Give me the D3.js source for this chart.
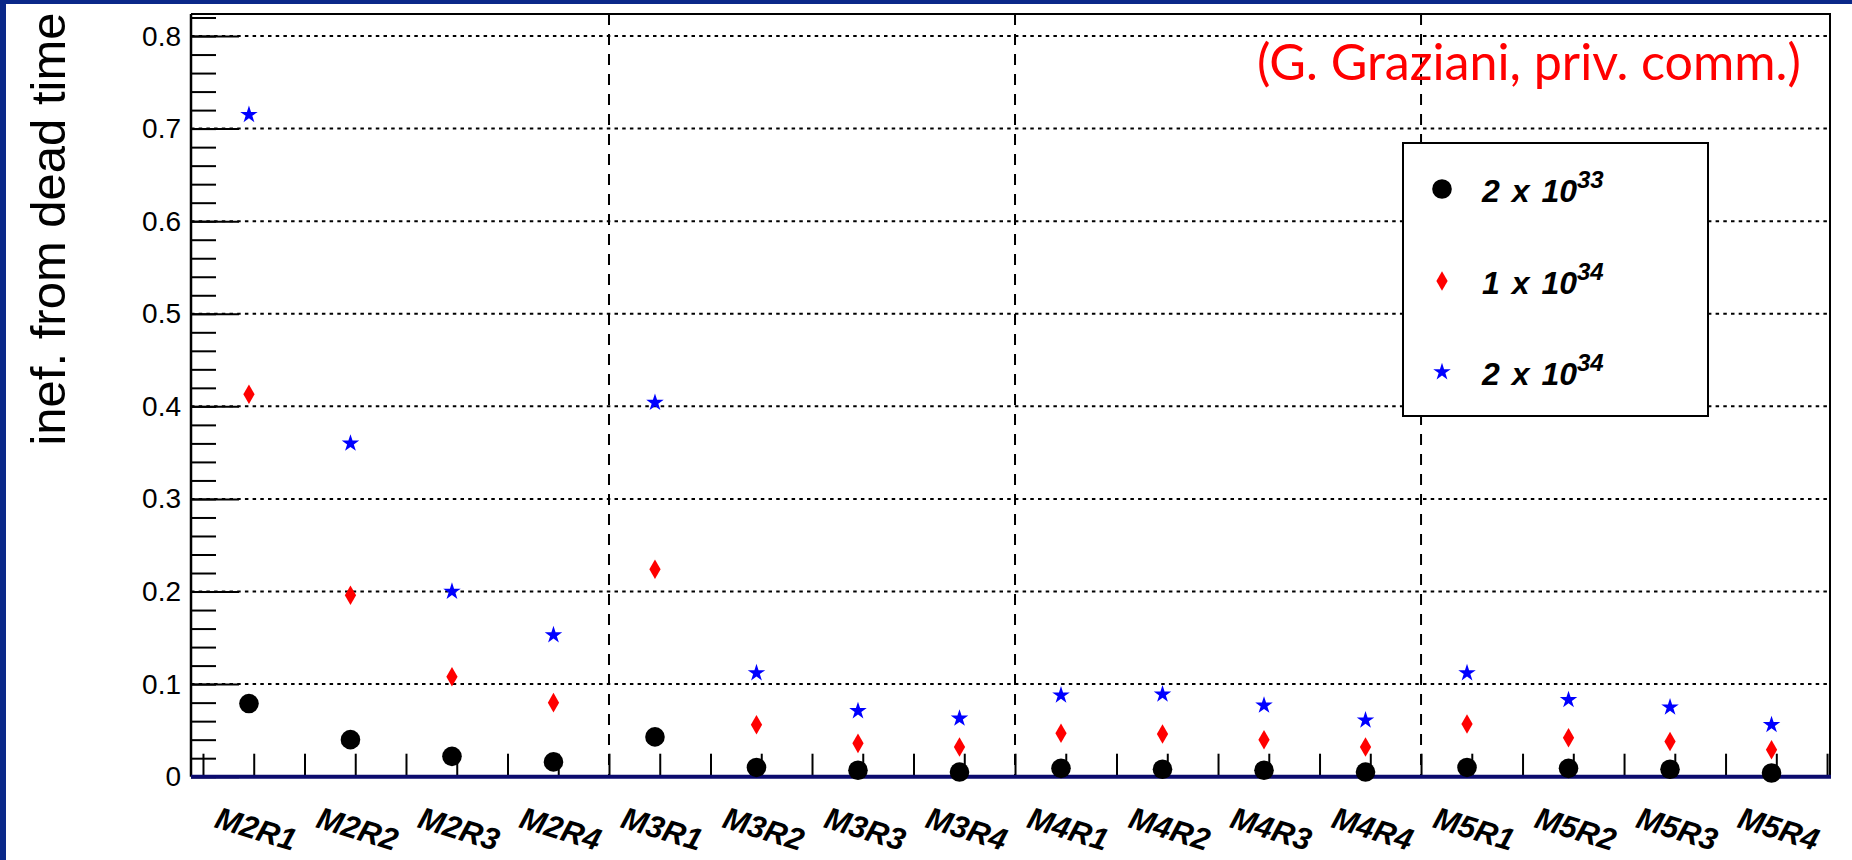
<!DOCTYPE html>
<html><head><meta charset="utf-8">
<script src="https://cdn.jsdelivr.net/npm/d3@7"></script>
<style>html,body{margin:0;padding:0;background:#fff;overflow:hidden}</style>
</head><body>
<svg id="chart" width="1852" height="860"></svg>
<script>
// ---- data ----
const categories = ["M2R1","M2R2","M2R3","M2R4","M3R1","M3R2","M3R3","M3R4",
                    "M4R1","M4R2","M4R3","M4R4","M5R1","M5R2","M5R3","M5R4"];
const lumi2e33 = [0.079,0.040,0.022,0.016,0.043,0.010,0.007,0.005,
                  0.009,0.008,0.007,0.005,0.010,0.009,0.008,0.004];
const lumi1e34 = [0.413,0.196,0.108,0.080,0.224,0.056,0.036,0.032,
                  0.047,0.046,0.040,0.032,0.057,0.042,0.038,0.029];
const lumi2e34 = [0.715,0.360,0.200,0.153,0.404,0.112,0.071,0.063,
                  0.088,0.089,0.077,0.061,0.112,0.083,0.075,0.056];
const yMajorTicks = [0,0.1,0.2,0.3,0.4,0.5,0.6,0.7,0.8];
const yTickLabels = ["0","0.1","0.2","0.3","0.4","0.5","0.6","0.7","0.8"];
const legendBases = ["2 x 10","1 x 10","2 x 10"];
const legendExps  = ["33","34","34"];
const yTitle = "inef. from dead time";
const note = "(G. Graziani, priv. comm.)";

// ---- layout ----
const L = 191, R = 1830, T = 14, B = 776.7;
const svg = d3.select("#chart");
svg.append("rect").attr("x",0).attr("y",0).attr("width",1852).attr("height",860).attr("fill","#fff");
svg.append("rect").attr("x",0).attr("y",0).attr("width",6).attr("height",860).attr("fill","#0a2889");
svg.append("rect").attr("x",0).attr("y",0).attr("width",1852).attr("height",4).attr("fill","#0a2889");

const x = d3.scaleLinear().domain([-0.571, 15.576]).range([L, R]);
const y = d3.scaleLinear().domain([0, 0.8238]).range([B, T]);

const xTickPositions = d3.range(33).map(k => -0.453 + 0.5 * k);
const xGridPositions = [xTickPositions[8], xTickPositions[16], xTickPositions[24]];
const yMinorTicks = d3.range(0, 41.5).map(k => k * 0.02).concat([0.82]);

// horizontal dotted grid
svg.append("g").selectAll("line").data(yMajorTicks.filter(v => v > 0)).join("line")
  .attr("x1", L).attr("x2", R).attr("y1", d => y(d)).attr("y2", d => y(d))
  .attr("stroke","#000").attr("stroke-width",2).attr("stroke-dasharray","3.5,4.2");
// vertical dashed grid
svg.append("g").selectAll("line").data(xGridPositions).join("line")
  .attr("x1", d => x(d)).attr("x2", d => x(d)).attr("y1", T).attr("y2", B)
  .attr("stroke","#000").attr("stroke-width",2).attr("stroke-dasharray","11,9");

// y axis minor ticks
const yMinor = svg.append("g").attr("transform",`translate(${L},0)`)
  .call(d3.axisLeft(y).tickValues(yMinorTicks).tickSize(-25).tickSizeOuter(0).tickFormat(""));
yMinor.select(".domain").remove();
yMinor.selectAll("line").attr("stroke","#000").attr("stroke-width",2);
// y axis major ticks + labels
const yMajor = svg.append("g").attr("transform",`translate(${L},0)`)
  .call(d3.axisLeft(y).tickValues(yMajorTicks).tickSize(-48).tickSizeOuter(0).tickPadding(10)
        .tickFormat((d,i) => yTickLabels[i]));
yMajor.select(".domain").remove();
yMajor.selectAll("line").attr("stroke","#000").attr("stroke-width",2);
yMajor.selectAll("text").attr("font-family","'Liberation Sans', Arial, sans-serif")
  .attr("font-size",28).attr("fill","#000");

// x axis ticks
const xAx = svg.append("g").attr("transform",`translate(0,${B})`)
  .call(d3.axisBottom(x).tickValues(xTickPositions).tickSize(-23).tickSizeOuter(0).tickFormat(""));
xAx.select(".domain").remove();
xAx.selectAll("line").attr("stroke","#000").attr("stroke-width",2);

// frame
svg.append("line").attr("x1",L).attr("x2",L).attr("y1",T).attr("y2",B).attr("stroke","#000").attr("stroke-width",2.5);
svg.append("line").attr("x1",L).attr("x2",R+1).attr("y1",T).attr("y2",T).attr("stroke","#000").attr("stroke-width",2);
svg.append("line").attr("x1",R).attr("x2",R).attr("y1",T).attr("y2",B).attr("stroke","#000").attr("stroke-width",2);
svg.append("line").attr("x1",L).attr("x2",R+1).attr("y1",B).attr("y2",B).attr("stroke","#0b0b6e").attr("stroke-width",4);

// x category labels
svg.append("g").selectAll("text").data(categories).join("text")
  .attr("transform",(d,i) => `translate(${x(i)+7},829) rotate(17)`)
  .attr("text-anchor","middle").attr("dominant-baseline","central")
  .attr("font-family","'Liberation Sans', Arial, sans-serif")
  .attr("font-weight","bold").attr("font-style","italic").attr("font-size",31)
  .attr("fill","#000").text(d => d);

// y title
svg.append("text").attr("transform","translate(65,229) rotate(-90)")
  .attr("text-anchor","middle")
  .attr("font-family","'Liberation Sans', Arial, sans-serif").attr("font-size",49)
  .attr("fill","#000").text(yTitle);

// markers
const starPath = d3.symbol(d3.symbolStar, 95)();
const diamondPath = d3.symbol(d3.symbolDiamond, 110)();
const gPts = svg.append("g");
gPts.selectAll("circle").data(lumi2e33).join("circle")
  .attr("cx",(d,i) => x(i)).attr("cy", d => y(d)).attr("r",9.8).attr("fill","#000");
gPts.selectAll("path.dia").data(lumi1e34).join("path").attr("class","dia")
  .attr("d",diamondPath).attr("transform",(d,i) => `translate(${x(i)},${y(d)})`).attr("fill","#ff0000");
gPts.selectAll("path.star").data(lumi2e34).join("path").attr("class","star")
  .attr("d",starPath).attr("transform",(d,i) => `translate(${x(i)},${y(d)})`).attr("fill","#0000ff");

// legend
svg.append("rect").attr("x",1403).attr("y",143).attr("width",305).attr("height",273)
  .attr("fill","#fff").attr("stroke","#000").attr("stroke-width",2);
const legY = [189, 281, 372];
svg.append("circle").attr("cx",1442).attr("cy",legY[0]).attr("r",9.8).attr("fill","#000");
svg.append("path").attr("d",diamondPath).attr("transform",`translate(1442,${legY[1]})`).attr("fill","#ff0000");
svg.append("path").attr("d",starPath).attr("transform",`translate(1442,${legY[2]})`).attr("fill","#0000ff");
legendBases.forEach((b,i) => {
  const t = svg.append("text").attr("x",1482).attr("y",legY[i]+13)
    .attr("font-family","'Liberation Sans', Arial, sans-serif")
    .attr("font-weight","bold").attr("font-style","italic").attr("font-size",32)
    .attr("word-spacing",3).attr("fill","#000");
  t.append("tspan").text(b);
  t.append("tspan").attr("dy",-14).attr("font-size",24).text(legendExps[i]);
});

// red note
const nt = svg.append("text").attr("x",1257).attr("y",80)
  .attr("font-family","Lato, 'Open Sans', sans-serif").attr("font-size",50)
  .attr("fill","#ff0000").text(note);
const len = nt.node().getComputedTextLength();
nt.attr("font-size", 50 * 544 / len);
</script>
</body></html>
